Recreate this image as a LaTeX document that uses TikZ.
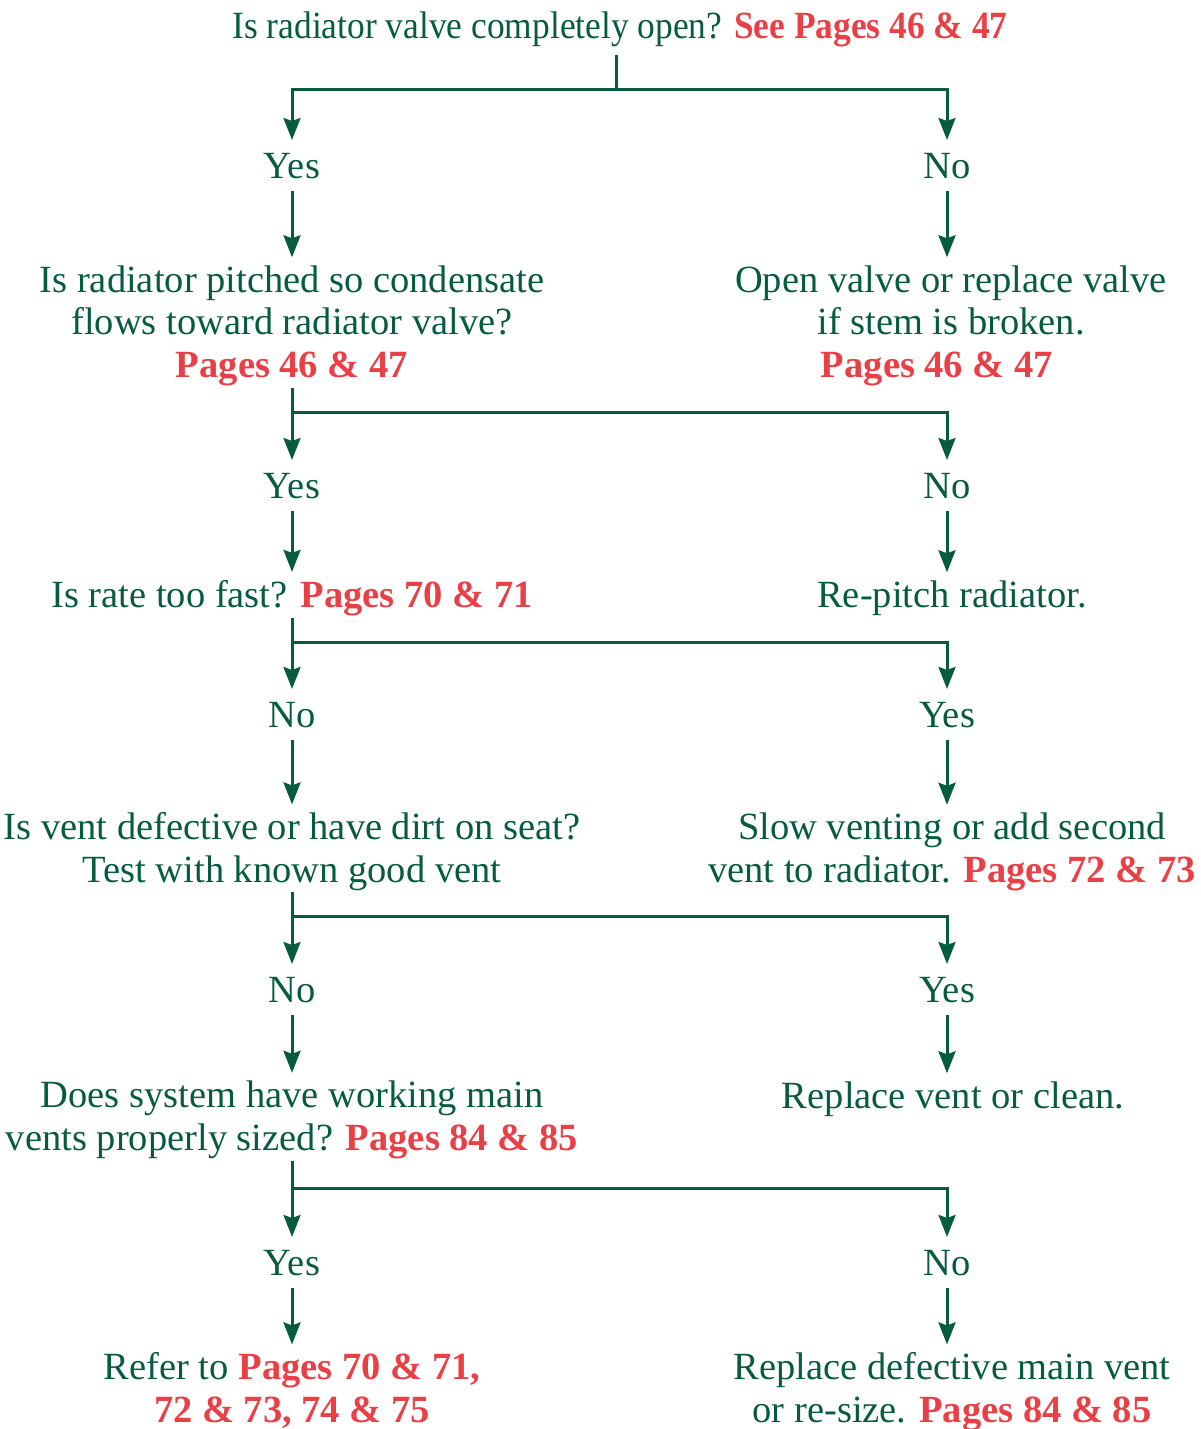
\documentclass[tikz,border=0pt]{standalone}
\usepackage{fontspec}
\setmainfont{Liberation Serif}
\usetikzlibrary{arrows.meta}
\definecolor{flowgreen}{RGB}{8,92,62}
\definecolor{pagered}{RGB}{233,64,72}
% page references: red and bold
\newcommand\pg[1]{{\color{pagered}\bfseries #1}}

\begin{document}
\begin{tikzpicture}[x=1pt,y=-1pt,
  every node/.style={inner sep=0pt, outer sep=0pt, text=flowgreen,
    font=\fontsize{38.5}{42.5}\selectfont, align=center, anchor=base},
  ans/.style={text height=25.5pt, text depth=0pt, outer ysep=12.5pt},
  wire/.style={draw=flowgreen, line width=3pt},
  arr/.style={wire, -{Stealth[length=22pt,width=17pt,inset=3pt]}},
  into/.style={arr, shorten >=8pt},
  stem/.style={wire, shorten <=2pt},
]
\useasboundingbox (0,0) rectangle (1201,1429);

% questions (left column) and remedies (right column); a node sits on its last baseline
\node (q1) at (620,38) {\addfontfeatures{FakeStretch=0.92}Is radiator valve completely open? \pg{See Pages 46 \& 47}};
\node (q2) at (292,377) {Is radiator pitched so condensate\\flows toward radiator valve?\\\pg{Pages 46 \& 47}};
\node (r1) at (951,377) {Open valve or replace valve\\if stem is broken.\\\pg{Pages 46 \& 47}\hspace*{28pt}};
\node (q3) at (292,607) {Is rate too fast? \pg{Pages 70 \& 71}};
\node (r2) at (952,607) {Re-pitch radiator.};
\node (q4) at (292,882) {Is vent defective or have dirt on seat?\\Test with known good vent};
\node (r3) at (952,882) {Slow venting or add second\\vent to radiator. \pg{Pages 72 \& 73}};
\node (q5) at (292,1150) {Does system have working main\\vents properly sized? \pg{Pages 84 \& 85}};
\node (r4) at (953,1108) {Replace vent or clean.};
\node (q6) at (292,1422) {Refer to \pg{Pages 70 \& 71,}\\\pg{72 \& 73, 74 \& 75}};
\node (r5) at (952,1422) {Replace defective main vent\\or re-size. \pg{Pages 84 \& 85}};

% answers
\node[ans] (y1) at (292,178) {Yes};
\node[ans] (n1) at (947,178) {No};
\node[ans] (y2) at (292,498) {Yes};
\node[ans] (n2) at (947,498) {No};
\node[ans] (n3) at (292,727) {No};
\node[ans] (y3) at (947,727) {Yes};
\node[ans] (n4) at (292,1002) {No};
\node[ans] (y4) at (947,1002) {Yes};
\node[ans] (y5) at (292,1275) {Yes};
\node[ans] (n5) at (947,1275) {No};

% branch junctions
\coordinate (j1) at (616,89);
\coordinate (j2) at (292,412);
\coordinate (j3) at (292,642);
\coordinate (j4) at (292,916);
\coordinate (j5) at (292,1188);

% question 1
\draw[wire, shorten <=9pt] (q1.south -| j1) -- (j1);
\draw[arr] (j1) -| (y1.north);
\draw[arr] (j1) -| (n1.north);
\draw[into] (y1.south) -- (q2.north);
\draw[into] (n1.south) -- (n1.south |- r1.north);

% question 2
\draw[arr, stem] (q2.south) -- (y2.north);
\draw[arr] (j2) -| (n2.north);
\draw[into] (y2.south) -- (q3.north);
\draw[into] (n2.south) -- (n2.south |- r2.north);

% question 3
\draw[arr, stem] (q3.south) -- (n3.north);
\draw[arr] (j3) -| (y3.north);
\draw[into] (n3.south) -- (q4.north);
\draw[into] (y3.south) -- (y3.south |- r3.north);

% question 4
\draw[arr, stem] (q4.south) -- (n4.north);
\draw[arr] (j4) -| (y4.north);
\draw[into] (n4.south) -- (q5.north);
\draw[into] (y4.south) -- (y4.south |- r4.north);

% question 5
\draw[arr, stem] (q5.south) -- (y5.north);
\draw[arr] (j5) -| (n5.north);
\draw[into] (y5.south) -- (q6.north);
\draw[into] (n5.south) -- (n5.south |- r5.north);
\end{tikzpicture}
\end{document}
